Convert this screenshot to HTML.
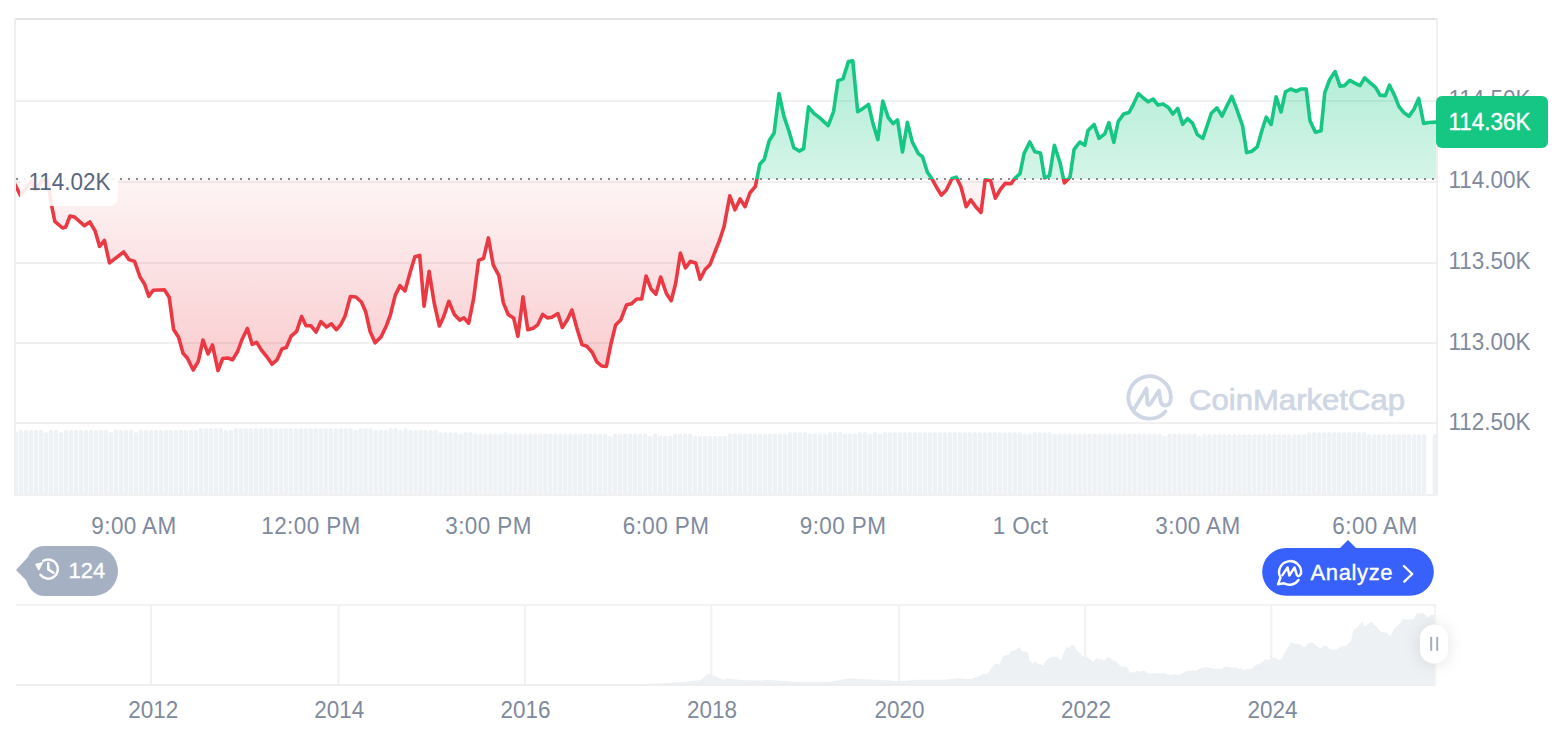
<!DOCTYPE html>
<html><head><meta charset="utf-8"><title>Chart</title>
<style>
html,body{margin:0;padding:0;background:#fff;width:1566px;height:732px;overflow:hidden;}
svg{position:absolute;left:0;top:0;display:block}
text{font-family:"Liberation Sans",sans-serif;}
</style></head><body>
<svg width="1566" height="732" viewBox="0 0 1566 732">
<defs>
<linearGradient id="gg" x1="0" y1="60" x2="0" y2="179" gradientUnits="userSpaceOnUse">
<stop offset="0" stop-color="#16c784" stop-opacity="0.34"/>
<stop offset="1" stop-color="#16c784" stop-opacity="0.18"/>
</linearGradient>
<linearGradient id="rg" x1="0" y1="179" x2="0" y2="371" gradientUnits="userSpaceOnUse">
<stop offset="0" stop-color="#ea3943" stop-opacity="0.05"/>
<stop offset="1" stop-color="#ea3943" stop-opacity="0.26"/>
</linearGradient>
<clipPath id="cv"><rect x="16" y="0" width="1420" height="494"/></clipPath>
<clipPath id="cg"><rect x="16" y="0" width="1420" height="179"/></clipPath>
<clipPath id="cr"><rect x="16" y="179" width="1420" height="320"/></clipPath>
<filter id="sh" x="-100%" y="-100%" width="300%" height="300%">
<feDropShadow dx="0" dy="1" stdDeviation="8" flood-color="#000" flood-opacity="0.11"/>
</filter>
</defs>
<!-- frame -->
<rect x="14" y="18" width="1424" height="2" fill="#e3e3e3"/>
<rect x="14" y="18" width="2" height="478" fill="#efefef"/>
<rect x="1436" y="18" width="2" height="478" fill="#efefef"/>
<rect x="14" y="494" width="1424" height="2" fill="#f1f1f1"/>
<g fill="#f0f0f0"><rect x="16" y="100" width="1420" height="2"/><rect x="16" y="181" width="1420" height="2"/><rect x="16" y="262" width="1420" height="2"/><rect x="16" y="342" width="1420" height="2"/><rect x="16" y="422" width="1420" height="2"/></g>
<g fill="#eff2f5" clip-path="url(#cv)"><rect x="16" y="431.7" width="2.30" height="62.3"/><rect x="18.89" y="429.7" width="4.4" height="68.3" rx="2.2"/><rect x="23.89" y="429.7" width="4.4" height="68.3" rx="2.2"/><rect x="28.88" y="429.7" width="4.4" height="68.3" rx="2.2"/><rect x="33.87" y="429.7" width="4.4" height="68.3" rx="2.2"/><rect x="38.87" y="429.7" width="4.4" height="68.3" rx="2.2"/><rect x="43.86" y="432.0" width="4.4" height="66.0" rx="2.2"/><rect x="48.85" y="429.7" width="4.4" height="68.3" rx="2.2"/><rect x="53.84" y="429.7" width="4.4" height="68.3" rx="2.2"/><rect x="58.84" y="432.0" width="4.4" height="66.0" rx="2.2"/><rect x="63.83" y="429.7" width="4.4" height="68.3" rx="2.2"/><rect x="68.82" y="429.7" width="4.4" height="68.3" rx="2.2"/><rect x="73.82" y="429.7" width="4.4" height="68.3" rx="2.2"/><rect x="78.81" y="429.7" width="4.4" height="68.3" rx="2.2"/><rect x="83.80" y="429.7" width="4.4" height="68.3" rx="2.2"/><rect x="88.80" y="429.7" width="4.4" height="68.3" rx="2.2"/><rect x="93.79" y="429.7" width="4.4" height="68.3" rx="2.2"/><rect x="98.78" y="429.7" width="4.4" height="68.3" rx="2.2"/><rect x="103.77" y="429.7" width="4.4" height="68.3" rx="2.2"/><rect x="108.77" y="432.0" width="4.4" height="66.0" rx="2.2"/><rect x="113.76" y="429.7" width="4.4" height="68.3" rx="2.2"/><rect x="118.75" y="429.7" width="4.4" height="68.3" rx="2.2"/><rect x="123.75" y="429.7" width="4.4" height="68.3" rx="2.2"/><rect x="128.74" y="429.7" width="4.4" height="68.3" rx="2.2"/><rect x="133.73" y="432.0" width="4.4" height="66.0" rx="2.2"/><rect x="138.72" y="429.7" width="4.4" height="68.3" rx="2.2"/><rect x="143.72" y="429.7" width="4.4" height="68.3" rx="2.2"/><rect x="148.71" y="429.7" width="4.4" height="68.3" rx="2.2"/><rect x="153.70" y="429.7" width="4.4" height="68.3" rx="2.2"/><rect x="158.70" y="429.7" width="4.4" height="68.3" rx="2.2"/><rect x="163.69" y="429.7" width="4.4" height="68.3" rx="2.2"/><rect x="168.68" y="429.7" width="4.4" height="68.3" rx="2.2"/><rect x="173.68" y="429.7" width="4.4" height="68.3" rx="2.2"/><rect x="178.67" y="429.7" width="4.4" height="68.3" rx="2.2"/><rect x="183.66" y="429.7" width="4.4" height="68.3" rx="2.2"/><rect x="188.66" y="429.7" width="4.4" height="68.3" rx="2.2"/><rect x="193.65" y="429.7" width="4.4" height="68.3" rx="2.2"/><rect x="198.64" y="428.1" width="4.4" height="69.9" rx="2.2"/><rect x="203.63" y="428.1" width="4.4" height="69.9" rx="2.2"/><rect x="208.63" y="428.1" width="4.4" height="69.9" rx="2.2"/><rect x="213.62" y="428.1" width="4.4" height="69.9" rx="2.2"/><rect x="218.61" y="428.1" width="4.4" height="69.9" rx="2.2"/><rect x="223.61" y="429.7" width="4.4" height="68.3" rx="2.2"/><rect x="228.60" y="429.7" width="4.4" height="68.3" rx="2.2"/><rect x="233.59" y="428.1" width="4.4" height="69.9" rx="2.2"/><rect x="238.59" y="428.1" width="4.4" height="69.9" rx="2.2"/><rect x="243.58" y="428.1" width="4.4" height="69.9" rx="2.2"/><rect x="248.57" y="428.1" width="4.4" height="69.9" rx="2.2"/><rect x="253.56" y="428.1" width="4.4" height="69.9" rx="2.2"/><rect x="258.56" y="428.1" width="4.4" height="69.9" rx="2.2"/><rect x="263.55" y="428.1" width="4.4" height="69.9" rx="2.2"/><rect x="268.54" y="428.1" width="4.4" height="69.9" rx="2.2"/><rect x="273.54" y="428.1" width="4.4" height="69.9" rx="2.2"/><rect x="278.53" y="428.1" width="4.4" height="69.9" rx="2.2"/><rect x="283.52" y="428.1" width="4.4" height="69.9" rx="2.2"/><rect x="288.51" y="428.1" width="4.4" height="69.9" rx="2.2"/><rect x="293.51" y="428.1" width="4.4" height="69.9" rx="2.2"/><rect x="298.50" y="428.1" width="4.4" height="69.9" rx="2.2"/><rect x="303.49" y="428.1" width="4.4" height="69.9" rx="2.2"/><rect x="308.49" y="428.1" width="4.4" height="69.9" rx="2.2"/><rect x="313.48" y="428.1" width="4.4" height="69.9" rx="2.2"/><rect x="318.47" y="428.1" width="4.4" height="69.9" rx="2.2"/><rect x="323.47" y="428.1" width="4.4" height="69.9" rx="2.2"/><rect x="328.46" y="428.1" width="4.4" height="69.9" rx="2.2"/><rect x="333.45" y="428.1" width="4.4" height="69.9" rx="2.2"/><rect x="338.44" y="428.1" width="4.4" height="69.9" rx="2.2"/><rect x="343.44" y="428.1" width="4.4" height="69.9" rx="2.2"/><rect x="348.43" y="428.1" width="4.4" height="69.9" rx="2.2"/><rect x="353.42" y="429.7" width="4.4" height="68.3" rx="2.2"/><rect x="358.42" y="428.1" width="4.4" height="69.9" rx="2.2"/><rect x="363.41" y="428.1" width="4.4" height="69.9" rx="2.2"/><rect x="368.40" y="428.1" width="4.4" height="69.9" rx="2.2"/><rect x="373.40" y="429.7" width="4.4" height="68.3" rx="2.2"/><rect x="378.39" y="429.7" width="4.4" height="68.3" rx="2.2"/><rect x="383.38" y="429.7" width="4.4" height="68.3" rx="2.2"/><rect x="388.38" y="428.1" width="4.4" height="69.9" rx="2.2"/><rect x="393.37" y="428.1" width="4.4" height="69.9" rx="2.2"/><rect x="398.36" y="429.7" width="4.4" height="68.3" rx="2.2"/><rect x="403.35" y="428.1" width="4.4" height="69.9" rx="2.2"/><rect x="408.35" y="429.7" width="4.4" height="68.3" rx="2.2"/><rect x="413.34" y="429.7" width="4.4" height="68.3" rx="2.2"/><rect x="418.33" y="429.7" width="4.4" height="68.3" rx="2.2"/><rect x="423.33" y="429.7" width="4.4" height="68.3" rx="2.2"/><rect x="428.32" y="429.7" width="4.4" height="68.3" rx="2.2"/><rect x="433.31" y="429.7" width="4.4" height="68.3" rx="2.2"/><rect x="438.31" y="432.0" width="4.4" height="66.0" rx="2.2"/><rect x="443.30" y="432.0" width="4.4" height="66.0" rx="2.2"/><rect x="448.29" y="432.0" width="4.4" height="66.0" rx="2.2"/><rect x="453.28" y="432.0" width="4.4" height="66.0" rx="2.2"/><rect x="458.28" y="433.5" width="4.4" height="64.5" rx="2.2"/><rect x="463.27" y="432.0" width="4.4" height="66.0" rx="2.2"/><rect x="468.26" y="432.0" width="4.4" height="66.0" rx="2.2"/><rect x="473.26" y="433.5" width="4.4" height="64.5" rx="2.2"/><rect x="478.25" y="433.5" width="4.4" height="64.5" rx="2.2"/><rect x="483.24" y="433.5" width="4.4" height="64.5" rx="2.2"/><rect x="488.24" y="433.5" width="4.4" height="64.5" rx="2.2"/><rect x="493.23" y="433.5" width="4.4" height="64.5" rx="2.2"/><rect x="498.22" y="433.5" width="4.4" height="64.5" rx="2.2"/><rect x="503.21" y="432.0" width="4.4" height="66.0" rx="2.2"/><rect x="508.21" y="433.5" width="4.4" height="64.5" rx="2.2"/><rect x="513.20" y="433.5" width="4.4" height="64.5" rx="2.2"/><rect x="518.19" y="433.5" width="4.4" height="64.5" rx="2.2"/><rect x="523.19" y="433.5" width="4.4" height="64.5" rx="2.2"/><rect x="528.18" y="433.5" width="4.4" height="64.5" rx="2.2"/><rect x="533.17" y="433.5" width="4.4" height="64.5" rx="2.2"/><rect x="538.16" y="433.5" width="4.4" height="64.5" rx="2.2"/><rect x="543.16" y="433.5" width="4.4" height="64.5" rx="2.2"/><rect x="548.15" y="433.5" width="4.4" height="64.5" rx="2.2"/><rect x="553.14" y="433.5" width="4.4" height="64.5" rx="2.2"/><rect x="558.14" y="433.5" width="4.4" height="64.5" rx="2.2"/><rect x="563.13" y="433.5" width="4.4" height="64.5" rx="2.2"/><rect x="568.12" y="433.5" width="4.4" height="64.5" rx="2.2"/><rect x="573.12" y="433.5" width="4.4" height="64.5" rx="2.2"/><rect x="578.11" y="433.5" width="4.4" height="64.5" rx="2.2"/><rect x="583.10" y="433.5" width="4.4" height="64.5" rx="2.2"/><rect x="588.10" y="433.5" width="4.4" height="64.5" rx="2.2"/><rect x="593.09" y="433.5" width="4.4" height="64.5" rx="2.2"/><rect x="598.08" y="433.5" width="4.4" height="64.5" rx="2.2"/><rect x="603.07" y="433.5" width="4.4" height="64.5" rx="2.2"/><rect x="608.07" y="435.8" width="4.4" height="62.2" rx="2.2"/><rect x="613.06" y="433.5" width="4.4" height="64.5" rx="2.2"/><rect x="618.05" y="433.5" width="4.4" height="64.5" rx="2.2"/><rect x="623.05" y="433.5" width="4.4" height="64.5" rx="2.2"/><rect x="628.04" y="433.5" width="4.4" height="64.5" rx="2.2"/><rect x="633.03" y="433.5" width="4.4" height="64.5" rx="2.2"/><rect x="638.02" y="433.5" width="4.4" height="64.5" rx="2.2"/><rect x="643.02" y="433.5" width="4.4" height="64.5" rx="2.2"/><rect x="648.01" y="435.8" width="4.4" height="62.2" rx="2.2"/><rect x="653.00" y="433.5" width="4.4" height="64.5" rx="2.2"/><rect x="658.00" y="435.8" width="4.4" height="62.2" rx="2.2"/><rect x="662.99" y="435.8" width="4.4" height="62.2" rx="2.2"/><rect x="667.98" y="435.8" width="4.4" height="62.2" rx="2.2"/><rect x="672.98" y="433.5" width="4.4" height="64.5" rx="2.2"/><rect x="677.97" y="433.5" width="4.4" height="64.5" rx="2.2"/><rect x="682.96" y="433.5" width="4.4" height="64.5" rx="2.2"/><rect x="687.96" y="433.5" width="4.4" height="64.5" rx="2.2"/><rect x="692.95" y="435.8" width="4.4" height="62.2" rx="2.2"/><rect x="697.94" y="435.8" width="4.4" height="62.2" rx="2.2"/><rect x="702.93" y="435.8" width="4.4" height="62.2" rx="2.2"/><rect x="707.93" y="435.8" width="4.4" height="62.2" rx="2.2"/><rect x="712.92" y="435.8" width="4.4" height="62.2" rx="2.2"/><rect x="717.91" y="435.8" width="4.4" height="62.2" rx="2.2"/><rect x="722.91" y="435.8" width="4.4" height="62.2" rx="2.2"/><rect x="727.90" y="433.5" width="4.4" height="64.5" rx="2.2"/><rect x="732.89" y="433.5" width="4.4" height="64.5" rx="2.2"/><rect x="737.88" y="433.5" width="4.4" height="64.5" rx="2.2"/><rect x="742.88" y="433.5" width="4.4" height="64.5" rx="2.2"/><rect x="747.87" y="433.5" width="4.4" height="64.5" rx="2.2"/><rect x="752.86" y="433.5" width="4.4" height="64.5" rx="2.2"/><rect x="757.86" y="433.5" width="4.4" height="64.5" rx="2.2"/><rect x="762.85" y="433.5" width="4.4" height="64.5" rx="2.2"/><rect x="767.84" y="433.5" width="4.4" height="64.5" rx="2.2"/><rect x="772.84" y="433.5" width="4.4" height="64.5" rx="2.2"/><rect x="777.83" y="433.5" width="4.4" height="64.5" rx="2.2"/><rect x="782.82" y="433.5" width="4.4" height="64.5" rx="2.2"/><rect x="787.82" y="432.0" width="4.4" height="66.0" rx="2.2"/><rect x="792.81" y="432.0" width="4.4" height="66.0" rx="2.2"/><rect x="797.80" y="432.0" width="4.4" height="66.0" rx="2.2"/><rect x="802.79" y="432.0" width="4.4" height="66.0" rx="2.2"/><rect x="807.79" y="433.5" width="4.4" height="64.5" rx="2.2"/><rect x="812.78" y="433.5" width="4.4" height="64.5" rx="2.2"/><rect x="817.77" y="433.5" width="4.4" height="64.5" rx="2.2"/><rect x="822.77" y="433.5" width="4.4" height="64.5" rx="2.2"/><rect x="827.76" y="432.0" width="4.4" height="66.0" rx="2.2"/><rect x="832.75" y="432.0" width="4.4" height="66.0" rx="2.2"/><rect x="837.75" y="432.0" width="4.4" height="66.0" rx="2.2"/><rect x="842.74" y="433.5" width="4.4" height="64.5" rx="2.2"/><rect x="847.73" y="433.5" width="4.4" height="64.5" rx="2.2"/><rect x="852.72" y="433.5" width="4.4" height="64.5" rx="2.2"/><rect x="857.72" y="432.0" width="4.4" height="66.0" rx="2.2"/><rect x="862.71" y="432.0" width="4.4" height="66.0" rx="2.2"/><rect x="867.70" y="433.5" width="4.4" height="64.5" rx="2.2"/><rect x="872.70" y="432.0" width="4.4" height="66.0" rx="2.2"/><rect x="877.69" y="433.5" width="4.4" height="64.5" rx="2.2"/><rect x="882.68" y="432.0" width="4.4" height="66.0" rx="2.2"/><rect x="887.68" y="432.0" width="4.4" height="66.0" rx="2.2"/><rect x="892.67" y="432.0" width="4.4" height="66.0" rx="2.2"/><rect x="897.66" y="432.0" width="4.4" height="66.0" rx="2.2"/><rect x="902.65" y="432.0" width="4.4" height="66.0" rx="2.2"/><rect x="907.65" y="432.0" width="4.4" height="66.0" rx="2.2"/><rect x="912.64" y="432.0" width="4.4" height="66.0" rx="2.2"/><rect x="917.63" y="432.0" width="4.4" height="66.0" rx="2.2"/><rect x="922.63" y="432.0" width="4.4" height="66.0" rx="2.2"/><rect x="927.62" y="432.0" width="4.4" height="66.0" rx="2.2"/><rect x="932.61" y="432.0" width="4.4" height="66.0" rx="2.2"/><rect x="937.61" y="432.0" width="4.4" height="66.0" rx="2.2"/><rect x="942.60" y="432.0" width="4.4" height="66.0" rx="2.2"/><rect x="947.59" y="432.0" width="4.4" height="66.0" rx="2.2"/><rect x="952.58" y="432.0" width="4.4" height="66.0" rx="2.2"/><rect x="957.58" y="432.0" width="4.4" height="66.0" rx="2.2"/><rect x="962.57" y="432.0" width="4.4" height="66.0" rx="2.2"/><rect x="967.56" y="432.0" width="4.4" height="66.0" rx="2.2"/><rect x="972.56" y="432.0" width="4.4" height="66.0" rx="2.2"/><rect x="977.55" y="432.0" width="4.4" height="66.0" rx="2.2"/><rect x="982.54" y="432.0" width="4.4" height="66.0" rx="2.2"/><rect x="987.54" y="432.0" width="4.4" height="66.0" rx="2.2"/><rect x="992.53" y="432.0" width="4.4" height="66.0" rx="2.2"/><rect x="997.52" y="432.0" width="4.4" height="66.0" rx="2.2"/><rect x="1002.51" y="432.0" width="4.4" height="66.0" rx="2.2"/><rect x="1007.51" y="432.0" width="4.4" height="66.0" rx="2.2"/><rect x="1012.50" y="432.0" width="4.4" height="66.0" rx="2.2"/><rect x="1017.49" y="432.0" width="4.4" height="66.0" rx="2.2"/><rect x="1022.49" y="433.5" width="4.4" height="64.5" rx="2.2"/><rect x="1027.48" y="433.5" width="4.4" height="64.5" rx="2.2"/><rect x="1032.47" y="432.0" width="4.4" height="66.0" rx="2.2"/><rect x="1037.47" y="432.0" width="4.4" height="66.0" rx="2.2"/><rect x="1042.46" y="432.0" width="4.4" height="66.0" rx="2.2"/><rect x="1047.45" y="432.0" width="4.4" height="66.0" rx="2.2"/><rect x="1052.44" y="433.5" width="4.4" height="64.5" rx="2.2"/><rect x="1057.44" y="433.5" width="4.4" height="64.5" rx="2.2"/><rect x="1062.43" y="433.5" width="4.4" height="64.5" rx="2.2"/><rect x="1067.42" y="433.5" width="4.4" height="64.5" rx="2.2"/><rect x="1072.42" y="433.5" width="4.4" height="64.5" rx="2.2"/><rect x="1077.41" y="433.5" width="4.4" height="64.5" rx="2.2"/><rect x="1082.40" y="433.5" width="4.4" height="64.5" rx="2.2"/><rect x="1087.40" y="433.5" width="4.4" height="64.5" rx="2.2"/><rect x="1092.39" y="433.5" width="4.4" height="64.5" rx="2.2"/><rect x="1097.38" y="433.5" width="4.4" height="64.5" rx="2.2"/><rect x="1102.37" y="433.5" width="4.4" height="64.5" rx="2.2"/><rect x="1107.37" y="433.5" width="4.4" height="64.5" rx="2.2"/><rect x="1112.36" y="433.5" width="4.4" height="64.5" rx="2.2"/><rect x="1117.35" y="433.5" width="4.4" height="64.5" rx="2.2"/><rect x="1122.35" y="433.5" width="4.4" height="64.5" rx="2.2"/><rect x="1127.34" y="433.5" width="4.4" height="64.5" rx="2.2"/><rect x="1132.33" y="433.5" width="4.4" height="64.5" rx="2.2"/><rect x="1137.33" y="433.5" width="4.4" height="64.5" rx="2.2"/><rect x="1142.32" y="433.5" width="4.4" height="64.5" rx="2.2"/><rect x="1147.31" y="433.5" width="4.4" height="64.5" rx="2.2"/><rect x="1152.30" y="433.5" width="4.4" height="64.5" rx="2.2"/><rect x="1157.30" y="433.5" width="4.4" height="64.5" rx="2.2"/><rect x="1162.29" y="435.8" width="4.4" height="62.2" rx="2.2"/><rect x="1167.28" y="433.5" width="4.4" height="64.5" rx="2.2"/><rect x="1172.28" y="433.5" width="4.4" height="64.5" rx="2.2"/><rect x="1177.27" y="433.5" width="4.4" height="64.5" rx="2.2"/><rect x="1182.26" y="433.5" width="4.4" height="64.5" rx="2.2"/><rect x="1187.26" y="433.5" width="4.4" height="64.5" rx="2.2"/><rect x="1192.25" y="433.5" width="4.4" height="64.5" rx="2.2"/><rect x="1197.24" y="435.8" width="4.4" height="62.2" rx="2.2"/><rect x="1202.23" y="434.0" width="4.4" height="64.0" rx="2.2"/><rect x="1207.23" y="434.0" width="4.4" height="64.0" rx="2.2"/><rect x="1212.22" y="434.0" width="4.4" height="64.0" rx="2.2"/><rect x="1217.21" y="434.0" width="4.4" height="64.0" rx="2.2"/><rect x="1222.21" y="434.0" width="4.4" height="64.0" rx="2.2"/><rect x="1227.20" y="434.0" width="4.4" height="64.0" rx="2.2"/><rect x="1232.19" y="434.0" width="4.4" height="64.0" rx="2.2"/><rect x="1237.19" y="434.0" width="4.4" height="64.0" rx="2.2"/><rect x="1242.18" y="434.0" width="4.4" height="64.0" rx="2.2"/><rect x="1247.17" y="434.0" width="4.4" height="64.0" rx="2.2"/><rect x="1252.16" y="434.0" width="4.4" height="64.0" rx="2.2"/><rect x="1257.16" y="434.0" width="4.4" height="64.0" rx="2.2"/><rect x="1262.15" y="434.0" width="4.4" height="64.0" rx="2.2"/><rect x="1267.14" y="434.0" width="4.4" height="64.0" rx="2.2"/><rect x="1272.14" y="434.0" width="4.4" height="64.0" rx="2.2"/><rect x="1277.13" y="434.0" width="4.4" height="64.0" rx="2.2"/><rect x="1282.12" y="434.0" width="4.4" height="64.0" rx="2.2"/><rect x="1287.12" y="434.0" width="4.4" height="64.0" rx="2.2"/><rect x="1292.11" y="434.0" width="4.4" height="64.0" rx="2.2"/><rect x="1297.10" y="434.0" width="4.4" height="64.0" rx="2.2"/><rect x="1302.09" y="434.0" width="4.4" height="64.0" rx="2.2"/><rect x="1307.09" y="432.0" width="4.4" height="66.0" rx="2.2"/><rect x="1312.08" y="432.0" width="4.4" height="66.0" rx="2.2"/><rect x="1317.07" y="432.0" width="4.4" height="66.0" rx="2.2"/><rect x="1322.07" y="432.0" width="4.4" height="66.0" rx="2.2"/><rect x="1327.06" y="432.0" width="4.4" height="66.0" rx="2.2"/><rect x="1332.05" y="432.0" width="4.4" height="66.0" rx="2.2"/><rect x="1337.05" y="432.0" width="4.4" height="66.0" rx="2.2"/><rect x="1342.04" y="432.0" width="4.4" height="66.0" rx="2.2"/><rect x="1347.03" y="432.0" width="4.4" height="66.0" rx="2.2"/><rect x="1352.02" y="432.0" width="4.4" height="66.0" rx="2.2"/><rect x="1357.02" y="432.0" width="4.4" height="66.0" rx="2.2"/><rect x="1362.01" y="432.0" width="4.4" height="66.0" rx="2.2"/><rect x="1367.00" y="434.0" width="4.4" height="64.0" rx="2.2"/><rect x="1372.00" y="434.0" width="4.4" height="64.0" rx="2.2"/><rect x="1376.99" y="434.0" width="4.4" height="64.0" rx="2.2"/><rect x="1381.98" y="434.0" width="4.4" height="64.0" rx="2.2"/><rect x="1386.98" y="434.0" width="4.4" height="64.0" rx="2.2"/><rect x="1391.97" y="434.0" width="4.4" height="64.0" rx="2.2"/><rect x="1396.96" y="434.0" width="4.4" height="64.0" rx="2.2"/><rect x="1401.95" y="434.0" width="4.4" height="64.0" rx="2.2"/><rect x="1406.95" y="434.0" width="4.4" height="64.0" rx="2.2"/><rect x="1411.94" y="434.0" width="4.4" height="64.0" rx="2.2"/><rect x="1416.93" y="434.0" width="4.4" height="64.0" rx="2.2"/><rect x="1421.93" y="434.0" width="4.4" height="64.0" rx="2.2"/></g>
<rect x="1432.6" y="434" width="4.2" height="64" rx="2.1" fill="#eff2f5" clip-path="url(#cv)"/>
<!-- watermark -->
<g fill="none" stroke="#cfd6e4" stroke-width="3.8" stroke-linecap="round" stroke-linejoin="round">
<path d="M1170.8,397.4 A21.2,21.2 0 1 0 1165.5,411.5"/>
<path d="M1133.5,410.3 L1146.5,388.5 L1147.3,402.5 Q1148,407 1151,403 L1159,390.5 L1160.5,401 Q1161.5,405.5 1165.5,405.5 Q1170.8,405 1170.8,397.4"/>
</g>
<text x="1189" y="410" font-size="29.5" fill="#cfd6e4" stroke="#cfd6e4" stroke-width="0.7" textLength="216" lengthAdjust="spacingAndGlyphs">CoinMarketCap</text>
<!-- fills -->
<path d="M15.0,184.5 L20.5,195.5 L31.1,181.5 L35.5,190.0 L42.6,179.5 L47.5,180.0 L51.5,205.0 L54.8,221.4 L62.5,228.0 L65.7,227.0 L70.0,216.0 L74.5,217.0 L84.3,225.7 L89.8,222.0 L95.2,231.2 L99.6,246.5 L104.4,240.4 L109.5,262.9 L123.7,252.0 L129.0,259.6 L134.6,261.4 L140.0,277.0 L144.4,283.7 L148.8,296.3 L153.2,290.2 L164.4,289.8 L169.2,297.3 L173.6,329.6 L178.6,337.3 L183.0,353.2 L187.3,358.0 L193.2,370.0 L198.3,361.3 L203.0,340.0 L208.0,354.0 L212.5,345.0 L218.0,370.5 L222.7,358.5 L227.8,358.0 L232.6,359.8 L237.6,351.5 L242.0,339.5 L247.4,328.5 L252.2,344.5 L256.6,342.3 L261.6,350.4 L267.1,357.0 L272.0,364.2 L277.0,359.8 L282.0,348.9 L286.3,347.5 L291.1,336.2 L296.6,331.4 L301.6,316.5 L306.0,325.7 L310.8,325.7 L316.1,332.0 L320.9,321.6 L326.4,327.1 L331.4,323.8 L336.2,329.7 L340.6,325.0 L345.0,316.2 L350.4,296.5 L355.9,297.0 L361.4,302.0 L365.7,311.8 L370.1,331.5 L375.1,342.8 L381.0,337.0 L386.5,325.4 L390.4,315.0 L395.2,295.4 L400.0,285.6 L405.0,291.0 L410.1,272.5 L414.9,256.7 L419.7,255.4 L424.1,306.3 L429.1,271.4 L434.2,303.0 L439.4,326.0 L443.8,316.2 L448.8,301.3 L454.3,314.4 L459.7,320.1 L463.9,317.9 L468.7,323.2 L473.6,298.7 L478.6,260.4 L483.6,258.3 L488.4,237.9 L493.2,264.8 L498.9,275.7 L503.3,302.6 L508.1,314.4 L513.6,317.9 L517.9,336.3 L523.0,296.9 L527.8,329.7 L533.2,328.2 L537.6,324.9 L542.6,314.4 L547.4,317.9 L551.8,317.3 L557.9,313.6 L562.3,327.5 L567.5,319.5 L571.9,310.0 L576.9,328.2 L582.0,344.6 L586.8,346.3 L592.2,352.2 L596.6,361.6 L601.6,366.0 L606.4,366.4 L610.8,344.6 L615.6,325.0 L620.9,319.7 L626.4,305.1 L631.4,303.8 L636.7,299.0 L641.7,299.0 L646.1,276.0 L651.1,289.1 L655.9,294.2 L660.7,277.1 L666.4,293.5 L671.2,300.7 L675.6,283.7 L680.4,253.1 L685.4,267.9 L690.4,261.4 L695.7,262.9 L700.1,279.3 L705.1,269.5 L710.1,264.4 L714.9,252.0 L719.7,240.0 L724.1,226.4 L729.8,195.8 L735.0,209.8 L740.1,198.9 L745.1,206.7 L749.9,193.0 L755.4,186.4 L759.8,164.2 L764.3,159.3 L769.2,140.8 L774.1,133.0 L779.0,93.6 L783.9,116.2 L788.9,131.0 L793.8,147.7 L799.2,151.1 L803.6,148.7 L808.5,106.9 L813.9,113.3 L820.1,118.2 L828.2,125.6 L833.6,111.3 L838.0,80.6 L843.0,78.9 L848.4,61.6 L852.8,60.9 L857.7,111.8 L863.1,108.4 L868.5,104.4 L873.0,123.6 L877.9,139.6 L882.8,101.0 L888.2,117.5 L893.1,123.6 L897.5,119.9 L902.5,151.9 L907.4,122.4 L912.3,142.0 L918.4,153.6 L922.5,156.7 L927.4,172.3 L931.5,178.0 L936.4,187.0 L941.3,195.2 L946.2,190.3 L952.0,178.5 L956.4,177.2 L961.0,187.0 L966.2,206.7 L970.8,199.8 L975.7,206.7 L981.0,212.5 L985.2,179.7 L990.5,180.5 L995.4,198.2 L1000.3,189.5 L1005.2,183.4 L1011.0,183.8 L1015.1,178.0 L1020.0,173.6 L1024.1,153.4 L1029.8,142.0 L1034.8,151.8 L1040.5,153.0 L1044.6,178.0 L1049.5,175.6 L1054.4,145.2 L1060.2,163.3 L1064.3,183.0 L1070.0,177.2 L1074.1,149.3 L1079.8,142.0 L1084.8,145.2 L1088.0,130.5 L1094.1,124.4 L1099.0,138.4 L1104.8,133.8 L1108.9,122.6 L1113.8,142.3 L1118.2,121.5 L1123.6,114.1 L1129.0,112.5 L1133.4,104.3 L1138.4,93.6 L1143.3,98.0 L1148.2,101.8 L1153.1,99.0 L1158.0,105.1 L1163.0,103.9 L1168.4,107.5 L1172.8,114.1 L1177.7,108.4 L1182.6,124.3 L1187.5,118.7 L1192.5,123.1 L1197.4,134.6 L1202.8,138.4 L1207.2,125.6 L1211.3,113.3 L1217.0,107.9 L1222.0,116.1 L1226.9,105.9 L1231.8,96.4 L1236.7,109.2 L1242.5,125.6 L1246.6,152.6 L1251.5,151.5 L1257.2,146.9 L1262.1,129.7 L1266.2,117.2 L1271.1,124.6 L1276.1,96.7 L1281.0,112.0 L1285.4,91.8 L1290.8,89.0 L1296.1,91.3 L1301.0,89.0 L1306.2,89.0 L1310.0,120.8 L1315.4,132.3 L1321.0,130.7 L1324.8,92.6 L1329.7,79.5 L1335.1,71.6 L1340.0,86.1 L1344.4,85.7 L1349.8,80.3 L1354.8,83.1 L1360.0,85.7 L1364.6,77.9 L1370.2,82.8 L1375.6,87.4 L1380.0,95.1 L1385.4,95.6 L1389.5,85.2 L1394.4,95.1 L1399.0,106.6 L1403.9,112.6 L1408.9,116.4 L1414.1,109.0 L1418.7,98.4 L1423.6,123.4 L1428.9,122.5 L1436.0,122.1 L1436.0,179.0 L15.0,179.0 Z" fill="url(#gg)" clip-path="url(#cg)"/>
<path d="M15.0,184.5 L20.5,195.5 L31.1,181.5 L35.5,190.0 L42.6,179.5 L47.5,180.0 L51.5,205.0 L54.8,221.4 L62.5,228.0 L65.7,227.0 L70.0,216.0 L74.5,217.0 L84.3,225.7 L89.8,222.0 L95.2,231.2 L99.6,246.5 L104.4,240.4 L109.5,262.9 L123.7,252.0 L129.0,259.6 L134.6,261.4 L140.0,277.0 L144.4,283.7 L148.8,296.3 L153.2,290.2 L164.4,289.8 L169.2,297.3 L173.6,329.6 L178.6,337.3 L183.0,353.2 L187.3,358.0 L193.2,370.0 L198.3,361.3 L203.0,340.0 L208.0,354.0 L212.5,345.0 L218.0,370.5 L222.7,358.5 L227.8,358.0 L232.6,359.8 L237.6,351.5 L242.0,339.5 L247.4,328.5 L252.2,344.5 L256.6,342.3 L261.6,350.4 L267.1,357.0 L272.0,364.2 L277.0,359.8 L282.0,348.9 L286.3,347.5 L291.1,336.2 L296.6,331.4 L301.6,316.5 L306.0,325.7 L310.8,325.7 L316.1,332.0 L320.9,321.6 L326.4,327.1 L331.4,323.8 L336.2,329.7 L340.6,325.0 L345.0,316.2 L350.4,296.5 L355.9,297.0 L361.4,302.0 L365.7,311.8 L370.1,331.5 L375.1,342.8 L381.0,337.0 L386.5,325.4 L390.4,315.0 L395.2,295.4 L400.0,285.6 L405.0,291.0 L410.1,272.5 L414.9,256.7 L419.7,255.4 L424.1,306.3 L429.1,271.4 L434.2,303.0 L439.4,326.0 L443.8,316.2 L448.8,301.3 L454.3,314.4 L459.7,320.1 L463.9,317.9 L468.7,323.2 L473.6,298.7 L478.6,260.4 L483.6,258.3 L488.4,237.9 L493.2,264.8 L498.9,275.7 L503.3,302.6 L508.1,314.4 L513.6,317.9 L517.9,336.3 L523.0,296.9 L527.8,329.7 L533.2,328.2 L537.6,324.9 L542.6,314.4 L547.4,317.9 L551.8,317.3 L557.9,313.6 L562.3,327.5 L567.5,319.5 L571.9,310.0 L576.9,328.2 L582.0,344.6 L586.8,346.3 L592.2,352.2 L596.6,361.6 L601.6,366.0 L606.4,366.4 L610.8,344.6 L615.6,325.0 L620.9,319.7 L626.4,305.1 L631.4,303.8 L636.7,299.0 L641.7,299.0 L646.1,276.0 L651.1,289.1 L655.9,294.2 L660.7,277.1 L666.4,293.5 L671.2,300.7 L675.6,283.7 L680.4,253.1 L685.4,267.9 L690.4,261.4 L695.7,262.9 L700.1,279.3 L705.1,269.5 L710.1,264.4 L714.9,252.0 L719.7,240.0 L724.1,226.4 L729.8,195.8 L735.0,209.8 L740.1,198.9 L745.1,206.7 L749.9,193.0 L755.4,186.4 L759.8,164.2 L764.3,159.3 L769.2,140.8 L774.1,133.0 L779.0,93.6 L783.9,116.2 L788.9,131.0 L793.8,147.7 L799.2,151.1 L803.6,148.7 L808.5,106.9 L813.9,113.3 L820.1,118.2 L828.2,125.6 L833.6,111.3 L838.0,80.6 L843.0,78.9 L848.4,61.6 L852.8,60.9 L857.7,111.8 L863.1,108.4 L868.5,104.4 L873.0,123.6 L877.9,139.6 L882.8,101.0 L888.2,117.5 L893.1,123.6 L897.5,119.9 L902.5,151.9 L907.4,122.4 L912.3,142.0 L918.4,153.6 L922.5,156.7 L927.4,172.3 L931.5,178.0 L936.4,187.0 L941.3,195.2 L946.2,190.3 L952.0,178.5 L956.4,177.2 L961.0,187.0 L966.2,206.7 L970.8,199.8 L975.7,206.7 L981.0,212.5 L985.2,179.7 L990.5,180.5 L995.4,198.2 L1000.3,189.5 L1005.2,183.4 L1011.0,183.8 L1015.1,178.0 L1020.0,173.6 L1024.1,153.4 L1029.8,142.0 L1034.8,151.8 L1040.5,153.0 L1044.6,178.0 L1049.5,175.6 L1054.4,145.2 L1060.2,163.3 L1064.3,183.0 L1070.0,177.2 L1074.1,149.3 L1079.8,142.0 L1084.8,145.2 L1088.0,130.5 L1094.1,124.4 L1099.0,138.4 L1104.8,133.8 L1108.9,122.6 L1113.8,142.3 L1118.2,121.5 L1123.6,114.1 L1129.0,112.5 L1133.4,104.3 L1138.4,93.6 L1143.3,98.0 L1148.2,101.8 L1153.1,99.0 L1158.0,105.1 L1163.0,103.9 L1168.4,107.5 L1172.8,114.1 L1177.7,108.4 L1182.6,124.3 L1187.5,118.7 L1192.5,123.1 L1197.4,134.6 L1202.8,138.4 L1207.2,125.6 L1211.3,113.3 L1217.0,107.9 L1222.0,116.1 L1226.9,105.9 L1231.8,96.4 L1236.7,109.2 L1242.5,125.6 L1246.6,152.6 L1251.5,151.5 L1257.2,146.9 L1262.1,129.7 L1266.2,117.2 L1271.1,124.6 L1276.1,96.7 L1281.0,112.0 L1285.4,91.8 L1290.8,89.0 L1296.1,91.3 L1301.0,89.0 L1306.2,89.0 L1310.0,120.8 L1315.4,132.3 L1321.0,130.7 L1324.8,92.6 L1329.7,79.5 L1335.1,71.6 L1340.0,86.1 L1344.4,85.7 L1349.8,80.3 L1354.8,83.1 L1360.0,85.7 L1364.6,77.9 L1370.2,82.8 L1375.6,87.4 L1380.0,95.1 L1385.4,95.6 L1389.5,85.2 L1394.4,95.1 L1399.0,106.6 L1403.9,112.6 L1408.9,116.4 L1414.1,109.0 L1418.7,98.4 L1423.6,123.4 L1428.9,122.5 L1436.0,122.1 L1436.0,179.0 L15.0,179.0 Z" fill="url(#rg)" clip-path="url(#cr)"/>
<g fill="#8a8a8a"><rect x="16" y="178" width="2" height="2"/><rect x="24" y="178" width="2" height="2"/><rect x="32" y="178" width="2" height="2"/><rect x="40" y="178" width="2" height="2"/><rect x="48" y="178" width="2" height="2"/><rect x="56" y="178" width="2" height="2"/><rect x="64" y="178" width="2" height="2"/><rect x="72" y="178" width="2" height="2"/><rect x="80" y="178" width="2" height="2"/><rect x="88" y="178" width="2" height="2"/><rect x="96" y="178" width="2" height="2"/><rect x="104" y="178" width="2" height="2"/><rect x="112" y="178" width="2" height="2"/><rect x="120" y="178" width="2" height="2"/><rect x="128" y="178" width="2" height="2"/><rect x="136" y="178" width="2" height="2"/><rect x="144" y="178" width="2" height="2"/><rect x="152" y="178" width="2" height="2"/><rect x="160" y="178" width="2" height="2"/><rect x="168" y="178" width="2" height="2"/><rect x="176" y="178" width="2" height="2"/><rect x="184" y="178" width="2" height="2"/><rect x="192" y="178" width="2" height="2"/><rect x="200" y="178" width="2" height="2"/><rect x="208" y="178" width="2" height="2"/><rect x="216" y="178" width="2" height="2"/><rect x="224" y="178" width="2" height="2"/><rect x="232" y="178" width="2" height="2"/><rect x="240" y="178" width="2" height="2"/><rect x="248" y="178" width="2" height="2"/><rect x="256" y="178" width="2" height="2"/><rect x="264" y="178" width="2" height="2"/><rect x="272" y="178" width="2" height="2"/><rect x="280" y="178" width="2" height="2"/><rect x="288" y="178" width="2" height="2"/><rect x="296" y="178" width="2" height="2"/><rect x="304" y="178" width="2" height="2"/><rect x="312" y="178" width="2" height="2"/><rect x="320" y="178" width="2" height="2"/><rect x="328" y="178" width="2" height="2"/><rect x="336" y="178" width="2" height="2"/><rect x="344" y="178" width="2" height="2"/><rect x="352" y="178" width="2" height="2"/><rect x="360" y="178" width="2" height="2"/><rect x="368" y="178" width="2" height="2"/><rect x="376" y="178" width="2" height="2"/><rect x="384" y="178" width="2" height="2"/><rect x="392" y="178" width="2" height="2"/><rect x="400" y="178" width="2" height="2"/><rect x="408" y="178" width="2" height="2"/><rect x="416" y="178" width="2" height="2"/><rect x="424" y="178" width="2" height="2"/><rect x="432" y="178" width="2" height="2"/><rect x="440" y="178" width="2" height="2"/><rect x="448" y="178" width="2" height="2"/><rect x="456" y="178" width="2" height="2"/><rect x="464" y="178" width="2" height="2"/><rect x="472" y="178" width="2" height="2"/><rect x="480" y="178" width="2" height="2"/><rect x="488" y="178" width="2" height="2"/><rect x="496" y="178" width="2" height="2"/><rect x="504" y="178" width="2" height="2"/><rect x="512" y="178" width="2" height="2"/><rect x="520" y="178" width="2" height="2"/><rect x="528" y="178" width="2" height="2"/><rect x="536" y="178" width="2" height="2"/><rect x="544" y="178" width="2" height="2"/><rect x="552" y="178" width="2" height="2"/><rect x="560" y="178" width="2" height="2"/><rect x="568" y="178" width="2" height="2"/><rect x="576" y="178" width="2" height="2"/><rect x="584" y="178" width="2" height="2"/><rect x="592" y="178" width="2" height="2"/><rect x="600" y="178" width="2" height="2"/><rect x="608" y="178" width="2" height="2"/><rect x="616" y="178" width="2" height="2"/><rect x="624" y="178" width="2" height="2"/><rect x="632" y="178" width="2" height="2"/><rect x="640" y="178" width="2" height="2"/><rect x="648" y="178" width="2" height="2"/><rect x="656" y="178" width="2" height="2"/><rect x="664" y="178" width="2" height="2"/><rect x="672" y="178" width="2" height="2"/><rect x="680" y="178" width="2" height="2"/><rect x="688" y="178" width="2" height="2"/><rect x="696" y="178" width="2" height="2"/><rect x="704" y="178" width="2" height="2"/><rect x="712" y="178" width="2" height="2"/><rect x="720" y="178" width="2" height="2"/><rect x="728" y="178" width="2" height="2"/><rect x="736" y="178" width="2" height="2"/><rect x="744" y="178" width="2" height="2"/><rect x="752" y="178" width="2" height="2"/><rect x="760" y="178" width="2" height="2"/><rect x="768" y="178" width="2" height="2"/><rect x="776" y="178" width="2" height="2"/><rect x="784" y="178" width="2" height="2"/><rect x="792" y="178" width="2" height="2"/><rect x="800" y="178" width="2" height="2"/><rect x="808" y="178" width="2" height="2"/><rect x="816" y="178" width="2" height="2"/><rect x="824" y="178" width="2" height="2"/><rect x="832" y="178" width="2" height="2"/><rect x="840" y="178" width="2" height="2"/><rect x="848" y="178" width="2" height="2"/><rect x="856" y="178" width="2" height="2"/><rect x="864" y="178" width="2" height="2"/><rect x="872" y="178" width="2" height="2"/><rect x="880" y="178" width="2" height="2"/><rect x="888" y="178" width="2" height="2"/><rect x="896" y="178" width="2" height="2"/><rect x="904" y="178" width="2" height="2"/><rect x="912" y="178" width="2" height="2"/><rect x="920" y="178" width="2" height="2"/><rect x="928" y="178" width="2" height="2"/><rect x="936" y="178" width="2" height="2"/><rect x="944" y="178" width="2" height="2"/><rect x="952" y="178" width="2" height="2"/><rect x="960" y="178" width="2" height="2"/><rect x="968" y="178" width="2" height="2"/><rect x="976" y="178" width="2" height="2"/><rect x="984" y="178" width="2" height="2"/><rect x="992" y="178" width="2" height="2"/><rect x="1000" y="178" width="2" height="2"/><rect x="1008" y="178" width="2" height="2"/><rect x="1016" y="178" width="2" height="2"/><rect x="1024" y="178" width="2" height="2"/><rect x="1032" y="178" width="2" height="2"/><rect x="1040" y="178" width="2" height="2"/><rect x="1048" y="178" width="2" height="2"/><rect x="1056" y="178" width="2" height="2"/><rect x="1064" y="178" width="2" height="2"/><rect x="1072" y="178" width="2" height="2"/><rect x="1080" y="178" width="2" height="2"/><rect x="1088" y="178" width="2" height="2"/><rect x="1096" y="178" width="2" height="2"/><rect x="1104" y="178" width="2" height="2"/><rect x="1112" y="178" width="2" height="2"/><rect x="1120" y="178" width="2" height="2"/><rect x="1128" y="178" width="2" height="2"/><rect x="1136" y="178" width="2" height="2"/><rect x="1144" y="178" width="2" height="2"/><rect x="1152" y="178" width="2" height="2"/><rect x="1160" y="178" width="2" height="2"/><rect x="1168" y="178" width="2" height="2"/><rect x="1176" y="178" width="2" height="2"/><rect x="1184" y="178" width="2" height="2"/><rect x="1192" y="178" width="2" height="2"/><rect x="1200" y="178" width="2" height="2"/><rect x="1208" y="178" width="2" height="2"/><rect x="1216" y="178" width="2" height="2"/><rect x="1224" y="178" width="2" height="2"/><rect x="1232" y="178" width="2" height="2"/><rect x="1240" y="178" width="2" height="2"/><rect x="1248" y="178" width="2" height="2"/><rect x="1256" y="178" width="2" height="2"/><rect x="1264" y="178" width="2" height="2"/><rect x="1272" y="178" width="2" height="2"/><rect x="1280" y="178" width="2" height="2"/><rect x="1288" y="178" width="2" height="2"/><rect x="1296" y="178" width="2" height="2"/><rect x="1304" y="178" width="2" height="2"/><rect x="1312" y="178" width="2" height="2"/><rect x="1320" y="178" width="2" height="2"/><rect x="1328" y="178" width="2" height="2"/><rect x="1336" y="178" width="2" height="2"/><rect x="1344" y="178" width="2" height="2"/><rect x="1352" y="178" width="2" height="2"/><rect x="1360" y="178" width="2" height="2"/><rect x="1368" y="178" width="2" height="2"/><rect x="1376" y="178" width="2" height="2"/><rect x="1384" y="178" width="2" height="2"/><rect x="1392" y="178" width="2" height="2"/><rect x="1400" y="178" width="2" height="2"/><rect x="1408" y="178" width="2" height="2"/><rect x="1416" y="178" width="2" height="2"/><rect x="1424" y="178" width="2" height="2"/><rect x="1432" y="178" width="2" height="2"/></g>
<path d="M15.0,184.5 L20.5,195.5 L31.1,181.5 L35.5,190.0 L42.6,179.5 L47.5,180.0 L51.5,205.0 L54.8,221.4 L62.5,228.0 L65.7,227.0 L70.0,216.0 L74.5,217.0 L84.3,225.7 L89.8,222.0 L95.2,231.2 L99.6,246.5 L104.4,240.4 L109.5,262.9 L123.7,252.0 L129.0,259.6 L134.6,261.4 L140.0,277.0 L144.4,283.7 L148.8,296.3 L153.2,290.2 L164.4,289.8 L169.2,297.3 L173.6,329.6 L178.6,337.3 L183.0,353.2 L187.3,358.0 L193.2,370.0 L198.3,361.3 L203.0,340.0 L208.0,354.0 L212.5,345.0 L218.0,370.5 L222.7,358.5 L227.8,358.0 L232.6,359.8 L237.6,351.5 L242.0,339.5 L247.4,328.5 L252.2,344.5 L256.6,342.3 L261.6,350.4 L267.1,357.0 L272.0,364.2 L277.0,359.8 L282.0,348.9 L286.3,347.5 L291.1,336.2 L296.6,331.4 L301.6,316.5 L306.0,325.7 L310.8,325.7 L316.1,332.0 L320.9,321.6 L326.4,327.1 L331.4,323.8 L336.2,329.7 L340.6,325.0 L345.0,316.2 L350.4,296.5 L355.9,297.0 L361.4,302.0 L365.7,311.8 L370.1,331.5 L375.1,342.8 L381.0,337.0 L386.5,325.4 L390.4,315.0 L395.2,295.4 L400.0,285.6 L405.0,291.0 L410.1,272.5 L414.9,256.7 L419.7,255.4 L424.1,306.3 L429.1,271.4 L434.2,303.0 L439.4,326.0 L443.8,316.2 L448.8,301.3 L454.3,314.4 L459.7,320.1 L463.9,317.9 L468.7,323.2 L473.6,298.7 L478.6,260.4 L483.6,258.3 L488.4,237.9 L493.2,264.8 L498.9,275.7 L503.3,302.6 L508.1,314.4 L513.6,317.9 L517.9,336.3 L523.0,296.9 L527.8,329.7 L533.2,328.2 L537.6,324.9 L542.6,314.4 L547.4,317.9 L551.8,317.3 L557.9,313.6 L562.3,327.5 L567.5,319.5 L571.9,310.0 L576.9,328.2 L582.0,344.6 L586.8,346.3 L592.2,352.2 L596.6,361.6 L601.6,366.0 L606.4,366.4 L610.8,344.6 L615.6,325.0 L620.9,319.7 L626.4,305.1 L631.4,303.8 L636.7,299.0 L641.7,299.0 L646.1,276.0 L651.1,289.1 L655.9,294.2 L660.7,277.1 L666.4,293.5 L671.2,300.7 L675.6,283.7 L680.4,253.1 L685.4,267.9 L690.4,261.4 L695.7,262.9 L700.1,279.3 L705.1,269.5 L710.1,264.4 L714.9,252.0 L719.7,240.0 L724.1,226.4 L729.8,195.8 L735.0,209.8 L740.1,198.9 L745.1,206.7 L749.9,193.0 L755.4,186.4 L759.8,164.2 L764.3,159.3 L769.2,140.8 L774.1,133.0 L779.0,93.6 L783.9,116.2 L788.9,131.0 L793.8,147.7 L799.2,151.1 L803.6,148.7 L808.5,106.9 L813.9,113.3 L820.1,118.2 L828.2,125.6 L833.6,111.3 L838.0,80.6 L843.0,78.9 L848.4,61.6 L852.8,60.9 L857.7,111.8 L863.1,108.4 L868.5,104.4 L873.0,123.6 L877.9,139.6 L882.8,101.0 L888.2,117.5 L893.1,123.6 L897.5,119.9 L902.5,151.9 L907.4,122.4 L912.3,142.0 L918.4,153.6 L922.5,156.7 L927.4,172.3 L931.5,178.0 L936.4,187.0 L941.3,195.2 L946.2,190.3 L952.0,178.5 L956.4,177.2 L961.0,187.0 L966.2,206.7 L970.8,199.8 L975.7,206.7 L981.0,212.5 L985.2,179.7 L990.5,180.5 L995.4,198.2 L1000.3,189.5 L1005.2,183.4 L1011.0,183.8 L1015.1,178.0 L1020.0,173.6 L1024.1,153.4 L1029.8,142.0 L1034.8,151.8 L1040.5,153.0 L1044.6,178.0 L1049.5,175.6 L1054.4,145.2 L1060.2,163.3 L1064.3,183.0 L1070.0,177.2 L1074.1,149.3 L1079.8,142.0 L1084.8,145.2 L1088.0,130.5 L1094.1,124.4 L1099.0,138.4 L1104.8,133.8 L1108.9,122.6 L1113.8,142.3 L1118.2,121.5 L1123.6,114.1 L1129.0,112.5 L1133.4,104.3 L1138.4,93.6 L1143.3,98.0 L1148.2,101.8 L1153.1,99.0 L1158.0,105.1 L1163.0,103.9 L1168.4,107.5 L1172.8,114.1 L1177.7,108.4 L1182.6,124.3 L1187.5,118.7 L1192.5,123.1 L1197.4,134.6 L1202.8,138.4 L1207.2,125.6 L1211.3,113.3 L1217.0,107.9 L1222.0,116.1 L1226.9,105.9 L1231.8,96.4 L1236.7,109.2 L1242.5,125.6 L1246.6,152.6 L1251.5,151.5 L1257.2,146.9 L1262.1,129.7 L1266.2,117.2 L1271.1,124.6 L1276.1,96.7 L1281.0,112.0 L1285.4,91.8 L1290.8,89.0 L1296.1,91.3 L1301.0,89.0 L1306.2,89.0 L1310.0,120.8 L1315.4,132.3 L1321.0,130.7 L1324.8,92.6 L1329.7,79.5 L1335.1,71.6 L1340.0,86.1 L1344.4,85.7 L1349.8,80.3 L1354.8,83.1 L1360.0,85.7 L1364.6,77.9 L1370.2,82.8 L1375.6,87.4 L1380.0,95.1 L1385.4,95.6 L1389.5,85.2 L1394.4,95.1 L1399.0,106.6 L1403.9,112.6 L1408.9,116.4 L1414.1,109.0 L1418.7,98.4 L1423.6,123.4 L1428.9,122.5 L1436.0,122.1" fill="none" stroke="#16c784" stroke-width="3.6" stroke-linejoin="round" stroke-linecap="round" clip-path="url(#cg)"/>
<path d="M15.0,184.5 L20.5,195.5 L31.1,181.5 L35.5,190.0 L42.6,179.5 L47.5,180.0 L51.5,205.0 L54.8,221.4 L62.5,228.0 L65.7,227.0 L70.0,216.0 L74.5,217.0 L84.3,225.7 L89.8,222.0 L95.2,231.2 L99.6,246.5 L104.4,240.4 L109.5,262.9 L123.7,252.0 L129.0,259.6 L134.6,261.4 L140.0,277.0 L144.4,283.7 L148.8,296.3 L153.2,290.2 L164.4,289.8 L169.2,297.3 L173.6,329.6 L178.6,337.3 L183.0,353.2 L187.3,358.0 L193.2,370.0 L198.3,361.3 L203.0,340.0 L208.0,354.0 L212.5,345.0 L218.0,370.5 L222.7,358.5 L227.8,358.0 L232.6,359.8 L237.6,351.5 L242.0,339.5 L247.4,328.5 L252.2,344.5 L256.6,342.3 L261.6,350.4 L267.1,357.0 L272.0,364.2 L277.0,359.8 L282.0,348.9 L286.3,347.5 L291.1,336.2 L296.6,331.4 L301.6,316.5 L306.0,325.7 L310.8,325.7 L316.1,332.0 L320.9,321.6 L326.4,327.1 L331.4,323.8 L336.2,329.7 L340.6,325.0 L345.0,316.2 L350.4,296.5 L355.9,297.0 L361.4,302.0 L365.7,311.8 L370.1,331.5 L375.1,342.8 L381.0,337.0 L386.5,325.4 L390.4,315.0 L395.2,295.4 L400.0,285.6 L405.0,291.0 L410.1,272.5 L414.9,256.7 L419.7,255.4 L424.1,306.3 L429.1,271.4 L434.2,303.0 L439.4,326.0 L443.8,316.2 L448.8,301.3 L454.3,314.4 L459.7,320.1 L463.9,317.9 L468.7,323.2 L473.6,298.7 L478.6,260.4 L483.6,258.3 L488.4,237.9 L493.2,264.8 L498.9,275.7 L503.3,302.6 L508.1,314.4 L513.6,317.9 L517.9,336.3 L523.0,296.9 L527.8,329.7 L533.2,328.2 L537.6,324.9 L542.6,314.4 L547.4,317.9 L551.8,317.3 L557.9,313.6 L562.3,327.5 L567.5,319.5 L571.9,310.0 L576.9,328.2 L582.0,344.6 L586.8,346.3 L592.2,352.2 L596.6,361.6 L601.6,366.0 L606.4,366.4 L610.8,344.6 L615.6,325.0 L620.9,319.7 L626.4,305.1 L631.4,303.8 L636.7,299.0 L641.7,299.0 L646.1,276.0 L651.1,289.1 L655.9,294.2 L660.7,277.1 L666.4,293.5 L671.2,300.7 L675.6,283.7 L680.4,253.1 L685.4,267.9 L690.4,261.4 L695.7,262.9 L700.1,279.3 L705.1,269.5 L710.1,264.4 L714.9,252.0 L719.7,240.0 L724.1,226.4 L729.8,195.8 L735.0,209.8 L740.1,198.9 L745.1,206.7 L749.9,193.0 L755.4,186.4 L759.8,164.2 L764.3,159.3 L769.2,140.8 L774.1,133.0 L779.0,93.6 L783.9,116.2 L788.9,131.0 L793.8,147.7 L799.2,151.1 L803.6,148.7 L808.5,106.9 L813.9,113.3 L820.1,118.2 L828.2,125.6 L833.6,111.3 L838.0,80.6 L843.0,78.9 L848.4,61.6 L852.8,60.9 L857.7,111.8 L863.1,108.4 L868.5,104.4 L873.0,123.6 L877.9,139.6 L882.8,101.0 L888.2,117.5 L893.1,123.6 L897.5,119.9 L902.5,151.9 L907.4,122.4 L912.3,142.0 L918.4,153.6 L922.5,156.7 L927.4,172.3 L931.5,178.0 L936.4,187.0 L941.3,195.2 L946.2,190.3 L952.0,178.5 L956.4,177.2 L961.0,187.0 L966.2,206.7 L970.8,199.8 L975.7,206.7 L981.0,212.5 L985.2,179.7 L990.5,180.5 L995.4,198.2 L1000.3,189.5 L1005.2,183.4 L1011.0,183.8 L1015.1,178.0 L1020.0,173.6 L1024.1,153.4 L1029.8,142.0 L1034.8,151.8 L1040.5,153.0 L1044.6,178.0 L1049.5,175.6 L1054.4,145.2 L1060.2,163.3 L1064.3,183.0 L1070.0,177.2 L1074.1,149.3 L1079.8,142.0 L1084.8,145.2 L1088.0,130.5 L1094.1,124.4 L1099.0,138.4 L1104.8,133.8 L1108.9,122.6 L1113.8,142.3 L1118.2,121.5 L1123.6,114.1 L1129.0,112.5 L1133.4,104.3 L1138.4,93.6 L1143.3,98.0 L1148.2,101.8 L1153.1,99.0 L1158.0,105.1 L1163.0,103.9 L1168.4,107.5 L1172.8,114.1 L1177.7,108.4 L1182.6,124.3 L1187.5,118.7 L1192.5,123.1 L1197.4,134.6 L1202.8,138.4 L1207.2,125.6 L1211.3,113.3 L1217.0,107.9 L1222.0,116.1 L1226.9,105.9 L1231.8,96.4 L1236.7,109.2 L1242.5,125.6 L1246.6,152.6 L1251.5,151.5 L1257.2,146.9 L1262.1,129.7 L1266.2,117.2 L1271.1,124.6 L1276.1,96.7 L1281.0,112.0 L1285.4,91.8 L1290.8,89.0 L1296.1,91.3 L1301.0,89.0 L1306.2,89.0 L1310.0,120.8 L1315.4,132.3 L1321.0,130.7 L1324.8,92.6 L1329.7,79.5 L1335.1,71.6 L1340.0,86.1 L1344.4,85.7 L1349.8,80.3 L1354.8,83.1 L1360.0,85.7 L1364.6,77.9 L1370.2,82.8 L1375.6,87.4 L1380.0,95.1 L1385.4,95.6 L1389.5,85.2 L1394.4,95.1 L1399.0,106.6 L1403.9,112.6 L1408.9,116.4 L1414.1,109.0 L1418.7,98.4 L1423.6,123.4 L1428.9,122.5 L1436.0,122.1" fill="none" stroke="#ea3943" stroke-width="3.6" stroke-linejoin="round" stroke-linecap="round" clip-path="url(#cr)"/>
<!-- ref label -->
<rect x="20" y="159" width="98" height="47" rx="8" fill="#ffffff" fill-opacity="0.88"/>
<text transform="translate(28.5,190) scale(1,1.035)" font-size="22.5" fill="#58667e">114.02K</text>
<!-- y labels -->
<g font-size="22.5" fill="#808a9d" stroke="none"><text transform="translate(1448.5,107) scale(1,1.035)">114.50K</text><text transform="translate(1448.5,188) scale(1,1.035)">114.00K</text><text transform="translate(1448.5,269) scale(1,1.035)">113.50K</text><text transform="translate(1448.5,350) scale(1,1.035)">113.00K</text><text transform="translate(1448.5,430) scale(1,1.035)">112.50K</text></g>
<rect x="1436" y="96" width="112" height="52" rx="6" fill="#16c784"/>
<text transform="translate(1448.5,130) scale(1,1.035)" font-size="22.5" fill="#ffffff" stroke="#ffffff" stroke-width="0.3">114.36K</text>
<!-- x labels -->
<g font-size="22.5" fill="#808a9d" stroke="none"><text transform="translate(134,534) scale(1,1.035)" text-anchor="middle" letter-spacing="0.4">9:00 AM</text><text transform="translate(311,534) scale(1,1.035)" text-anchor="middle" letter-spacing="0.4">12:00 PM</text><text transform="translate(488.5,534) scale(1,1.035)" text-anchor="middle" letter-spacing="0.4">3:00 PM</text><text transform="translate(666,534) scale(1,1.035)" text-anchor="middle" letter-spacing="0.4">6:00 PM</text><text transform="translate(843,534) scale(1,1.035)" text-anchor="middle" letter-spacing="0.4">9:00 PM</text><text transform="translate(1020.5,534) scale(1,1.035)" text-anchor="middle" letter-spacing="0.4">1 Oct</text><text transform="translate(1198,534) scale(1,1.035)" text-anchor="middle" letter-spacing="0.4">3:00 AM</text><text transform="translate(1375,534) scale(1,1.035)" text-anchor="middle" letter-spacing="0.4">6:00 AM</text></g>
<!-- history -->
<path d="M44,546 H93 A25,25 0 0 1 93,596 H44 C36,596 29.5,590 26,580 L16,570 L28,557 C31,550 37,546 44,546 Z" fill="#a6b0c3"/>
<g fill="none" stroke="#fff" stroke-width="2.5" stroke-linecap="round" stroke-linejoin="round">
<path d="M43.3,560.9 A9.6,9.6 0 1 1 40.5,574.7"/>
<path d="M48.3,563.3 L48.3,569.4 L53.4,572.7"/>
</g>
<path d="M35.6,564.2 L42.6,562.6 L38.8,570.2 Z" fill="#fff" stroke="#fff" stroke-width="1" stroke-linejoin="round"/>
<text transform="translate(68.5,578) scale(1,1.035)" font-size="22" fill="#ffffff" stroke="#ffffff" stroke-width="0.3">124</text>
<!-- analyze -->
<path d="M1286,548 L1340,548 L1348,540 L1356,548 L1410,548 A23.8,23.8 0 0 1 1410,595.7 L1286,595.7 A23.8,23.8 0 0 1 1286,548 Z" fill="#3861fb"/>
<g fill="none" stroke="#fff" stroke-width="2.4" stroke-linecap="round" stroke-linejoin="round">
<path d="M1301,573.5 A11,11 0 1 0 1280.5,577.5 L1278,584.2 L1284,583.3 A11,11 0 0 0 1298.5,580"/>
<path d="M1282.4,575.2 L1287.6,567.4 L1289.3,575.6 L1294.5,567.4 L1296.8,574.8 Q1298.8,578 1301,573.5"/>
<path d="M1403.9,566 L1412.2,574 L1404.3,581.6"/>
</g>
<text transform="translate(1310.5,580) scale(1,1.035)" font-size="22" fill="#ffffff" stroke="#ffffff" stroke-width="0.35" textLength="82" lengthAdjust="spacing">Analyze</text>
<!-- mini chart -->
<rect x="16" y="604" width="1420" height="2" fill="#f3f3f3"/>
<g fill="#f1f1f1"><rect x="150" y="605" width="2" height="80"/><rect x="337.5" y="605" width="2" height="80"/><rect x="524" y="605" width="2" height="80"/><rect x="710.3" y="605" width="2" height="80"/><rect x="898" y="605" width="2" height="80"/><rect x="1084.2" y="605" width="2" height="80"/><rect x="1270.3" y="605" width="2" height="80"/></g>
<path d="M16.0,685.0 L400.0,685.0 L600.0,685.0 L657.5,683.5 L686.2,681.8 L700.6,680.0 L707.8,674.0 L710.6,675.0 L715.0,676.0 L723.6,679.8 L726.4,678.3 L740.8,680.0 L761.0,680.6 L766.7,679.8 L795.4,681.8 L829.9,681.8 L850.0,678.3 L858.6,678.9 L887.4,680.3 L897.4,681.2 L916.1,679.8 L944.8,679.8 L960.0,678.3 L964.6,678.9 L971.5,678.9 L976.1,676.9 L980.1,675.4 L983.0,673.7 L987.6,673.7 L991.0,669.1 L993.9,664.5 L997.4,663.3 L999.7,665.1 L1002.5,657.0 L1006.0,655.1 L1008.3,654.7 L1010.6,651.3 L1014.0,650.7 L1016.9,649.5 L1019.2,646.7 L1022.1,651.3 L1024.4,651.8 L1026.4,650.7 L1028.4,654.1 L1029.5,660.5 L1033.0,663.3 L1035.3,661.0 L1037.6,663.9 L1040.5,663.9 L1043.3,665.6 L1045.6,661.0 L1048.5,658.7 L1053.1,656.4 L1057.7,657.0 L1060.0,659.9 L1061.1,660.5 L1063.4,653.6 L1066.3,647.2 L1068.6,647.8 L1072.1,644.9 L1074.4,646.1 L1076.1,649.5 L1079.5,652.4 L1081.8,655.9 L1085.3,655.9 L1088.7,658.2 L1091.6,659.9 L1093.3,662.2 L1095.6,658.7 L1097.9,658.2 L1099.7,659.9 L1101.4,658.7 L1103.7,661.0 L1107.7,657.0 L1110.6,658.2 L1112.9,660.5 L1115.2,660.5 L1118.0,662.8 L1120.3,666.2 L1123.2,666.8 L1125.5,666.2 L1127.8,667.9 L1129.5,672.0 L1134.7,672.5 L1137.0,670.8 L1140.0,672.0 L1140.9,670.8 L1144.9,670.8 L1147.8,673.1 L1150.1,673.4 L1151.8,672.8 L1154.7,673.7 L1157.6,673.1 L1159.9,673.4 L1164.5,672.8 L1167.9,674.8 L1171.4,675.1 L1175.4,674.3 L1180.6,674.8 L1184.0,672.0 L1187.5,670.8 L1190.9,671.0 L1192.6,670.2 L1196.1,671.1 L1200.1,667.9 L1202.4,668.2 L1205.9,666.8 L1209.3,667.9 L1212.8,668.2 L1215.1,668.9 L1218.5,668.5 L1221.4,669.1 L1224.3,666.8 L1227.7,666.6 L1231.7,667.4 L1235.7,667.4 L1239.2,669.1 L1240.9,668.3 L1243.2,669.7 L1248.4,669.1 L1252.4,668.5 L1254.7,665.4 L1257.6,664.3 L1260.0,663.9 L1262.5,662.1 L1265.5,658.8 L1268.6,660.2 L1271.7,658.4 L1274.8,657.2 L1278.4,660.2 L1281.5,658.8 L1284.6,652.9 L1287.7,648.0 L1290.7,642.4 L1294.4,643.6 L1298.1,643.6 L1302.4,646.1 L1304.9,647.3 L1308.6,643.0 L1312.9,642.8 L1317.8,646.7 L1321.5,648.6 L1323.9,645.5 L1327.0,646.1 L1330.1,649.2 L1336.2,649.8 L1341.2,646.5 L1346.1,645.5 L1351.0,641.2 L1353.4,629.5 L1357.1,627.7 L1362.1,621.5 L1364.5,626.4 L1371.3,621.5 L1376.8,627.0 L1381.1,632.0 L1386.6,632.6 L1390.3,636.3 L1394.0,628.9 L1400.2,622.7 L1403.2,619.1 L1407.5,619.4 L1413.7,619.1 L1416.8,613.3 L1423.5,612.9 L1427.2,617.2 L1432.1,614.8 L1434.3,615.4 L1434.3,685 L16,685 Z" fill="#eef1f4"/>
<rect x="16" y="684" width="1420" height="2" fill="#eeeeee"/>
<rect x="1434.2" y="604" width="2" height="82" fill="#f3f3f3"/>
<g font-size="22.5" fill="#808a9d" stroke="none"><text transform="translate(153.2,718) scale(1,1.035)" text-anchor="middle">2012</text><text transform="translate(339.2,718) scale(1,1.035)" text-anchor="middle">2014</text><text transform="translate(525.5,718) scale(1,1.035)" text-anchor="middle">2016</text><text transform="translate(712,718) scale(1,1.035)" text-anchor="middle">2018</text><text transform="translate(899.5,718) scale(1,1.035)" text-anchor="middle">2020</text><text transform="translate(1086,718) scale(1,1.035)" text-anchor="middle">2022</text><text transform="translate(1272.5,718) scale(1,1.035)" text-anchor="middle">2024</text></g>
<!-- handle -->
<rect x="1420" y="624.7" width="28" height="38.8" rx="14" fill="#ffffff" filter="url(#sh)"/>
<rect x="1430.2" y="636.8" width="2" height="14" fill="#a3adbf"/>
<rect x="1436.2" y="636.8" width="2" height="14" fill="#a3adbf"/>
</svg>
</body></html>
